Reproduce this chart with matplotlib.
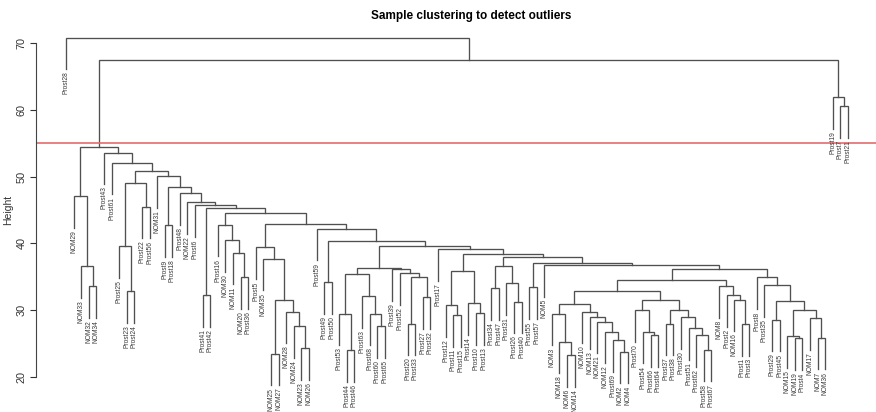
import matplotlib
matplotlib.use('Agg')
import matplotlib.pyplot as plt

plt.rcParams['font.family'] = ['Liberation Sans', 'DejaVu Sans']

# hclust-style merge table: strings are samples, ints point to an earlier merge row
merge_pairs = [
    ("NOM32", "NOM34"), ("NOM33", 0), ("NOM29", 1),
    ("Prost23", "Prost24"), ("Prost25", 3), ("Prost22", "Prost56"), (4, 5),
    ("NOM20", "Prost36"), ("NOM11", 7), ("NOM30", 8), ("Prost16", 9),
    ("NOM25", "NOM27"), ("NOM23", "NOM26"), ("NOM24", 12), ("NOM28", 13), (11, 14),
    ("NOM35", 15), ("Prost5", 16),
    ("Prost44", "Prost46"), ("Prost53", 18), ("Prost60", "Prost65"), ("Prost68", 20),
    ("Prost63", 21), (19, 22), ("Prost20", "Prost33"), ("Prost27", "Prost32"), (24, 25),
    ("Prost52", 26), ("Prost39", 27), (23, 28),
    ("Prost11", "Prost15"), ("Prost12", 30), ("Prost10", "Prost13"), ("Prost14", 32), (31, 33),
    ("Prost34", "Prost47"), ("Prost26", "Prost40"), ("Prost31", 36), (35, 37),
    ("NOM6", "NOM14"), ("NOM18", 39), ("NOM3", 40), ("NOM2", "NOM4"), ("Prost69", 42),
    ("NOM12", 43), ("NOM21", 44), ("NOM13", 45), ("NOM10", 46), (41, 47),
    ("Prost66", "Prost64"), ("Prost54", 49), ("Prost70", 50), ("Prost37", "Prost38"),
    ("Prost58", "Prost67"), ("Prost62", 53), ("Prost51", 54), ("Prost30", 55), (52, 56),
    (51, 57), (48, 58),
    ("Prost1", "Prost3"), ("NOM16", 60), ("Prost2", 61), ("NOM8", 62), (59, 63),
    ("Prost29", "Prost45"), ("NOM19", "Prost4"), ("NOM15", 66), ("NOM7", "NOM36"),
    ("NOM17", 68), (67, 69), (65, 70), ("Prost35", 71), ("Prost8", 72), (64, 73),
    ("NOM5", 74), ("Prost55", "Prost57"), (76, 75), (38, 77), (34, 78), ("Prost17", 79),
    (29, 80), ("Prost49", "Prost50"), (82, 81), ("Prost59", 83), (17, 84), (10, 85),
    ("Prost41", "Prost42"), (87, 86), ("Prost6", 88), ("NOM22", 89), ("Prost48", 90),
    ("Prost9", "Prost18"), (92, 91), ("NOM31", 93), (6, 94), ("Prost61", 95),
    ("Prost43", 96), (2, 97),
    ("Prost7", "Prost21"), ("Prost19", 99), (98, 100), ("Prost28", 101),
]
merge_heights = [
    33.6, 36.6, 47.1,
    32.9, 39.6, 45.5, 49.1,
    35.0, 38.6, 40.5, 42.8,
    23.5, 24.3, 27.6, 29.8, 31.5,
    37.7, 39.4,
    24.0, 29.5, 27.6, 29.5,
    32.1, 35.4, 28.0, 32.0, 35.0,
    35.6, 36.1, 36.3,
    29.3, 30.8, 29.6, 31.1, 35.9,
    33.3, 31.3, 34.0, 36.6,
    23.3, 25.3, 29.5, 23.8, 25.5,
    26.8, 28.3, 29.0, 29.8, 31.0,
    26.3, 26.8, 30.0, 28.0,
    24.1, 26.3, 27.3, 29.0, 30.0,
    31.5, 32.8,
    27.9, 31.6, 32.3, 33.6, 34.5,
    28.6, 25.8, 26.1, 25.9,
    28.8, 30.1, 31.4, 33.8, 34.9, 36.1,
    36.8, 33.4, 37.1, 37.9, 38.4, 39.1,
    39.6, 34.2, 40.4, 42.2, 42.9, 44.5,
    32.3, 45.25, 45.7, 46.2, 47.5,
    42.7, 48.4, 50.1, 50.9, 52.1,
    53.6, 54.5,
    60.6, 61.9, 67.4, 70.8,
]
cut_height = 55
y_ticks = [20, 30, 40, 50, 60, 70]
title = "Sample clustering to detect outliers"

hang = 0.1 * (max(merge_heights) - min(merge_heights))
order = []
leaf_bottom = {}
segments = []


def place(ref):
    if isinstance(ref, str):
        order.append(ref)
        return len(order) - 1
    h = merge_heights[ref]
    xs = []
    for child in merge_pairs[ref]:
        x = place(child)
        if isinstance(child, str):
            low = h - hang
            leaf_bottom[child] = (x, low)
        else:
            low = merge_heights[child]
        xs.append((x, low))
    (xa, ha), (xb, hb) = xs
    segments.append(([xa, xa, xb, xb], [ha, h, h, hb]))
    return (xa + xb) / 2


place(len(merge_pairs) - 1)

fig = plt.figure(figsize=(8.76, 4.12), dpi=100)
ax = fig.add_axes([36 / 876, 8 / 412, 840 / 876, 381 / 412])

for xs, ys in segments:
    ax.plot(xs, ys, color='#505050', lw=0.95, solid_joinstyle='miter')

for name, (x, low) in leaf_bottom.items():
    ax.text(x, low - 0.35, name, rotation=90, ha='center', va='top',
            fontsize=4.8, color='#3a3a3a')

ax.axhline(cut_height, color='#e46c6c', lw=1.2)

ax.set_xlim(-3.95, len(order) - 1 + 3.69)
ax.set_ylim(15.96, 72.99)
for side in ['top', 'right', 'bottom']:
    ax.spines[side].set_visible(False)
ax.spines['left'].set_bounds(20, 70)
ax.spines['left'].set_color('#444444')
ax.set_xticks([])
ax.set_yticks(y_ticks)
ax.tick_params(axis='y', length=4.5, width=0.8, pad=2.5, labelsize=7.8,
               colors='#333333')
for lab in ax.get_yticklabels():
    lab.set_rotation(90)
    lab.set_va('center')

fig.text(8 / 876, 1 - 210 / 412, "Height", rotation=90, ha='center', va='center',
         fontsize=7.5, color='#333333')
fig.text(471 / 876, 1 - 16 / 412, title, ha='center', va='center',
         fontsize=8.5, fontweight='bold')

fig.savefig('out.png', dpi=100)
